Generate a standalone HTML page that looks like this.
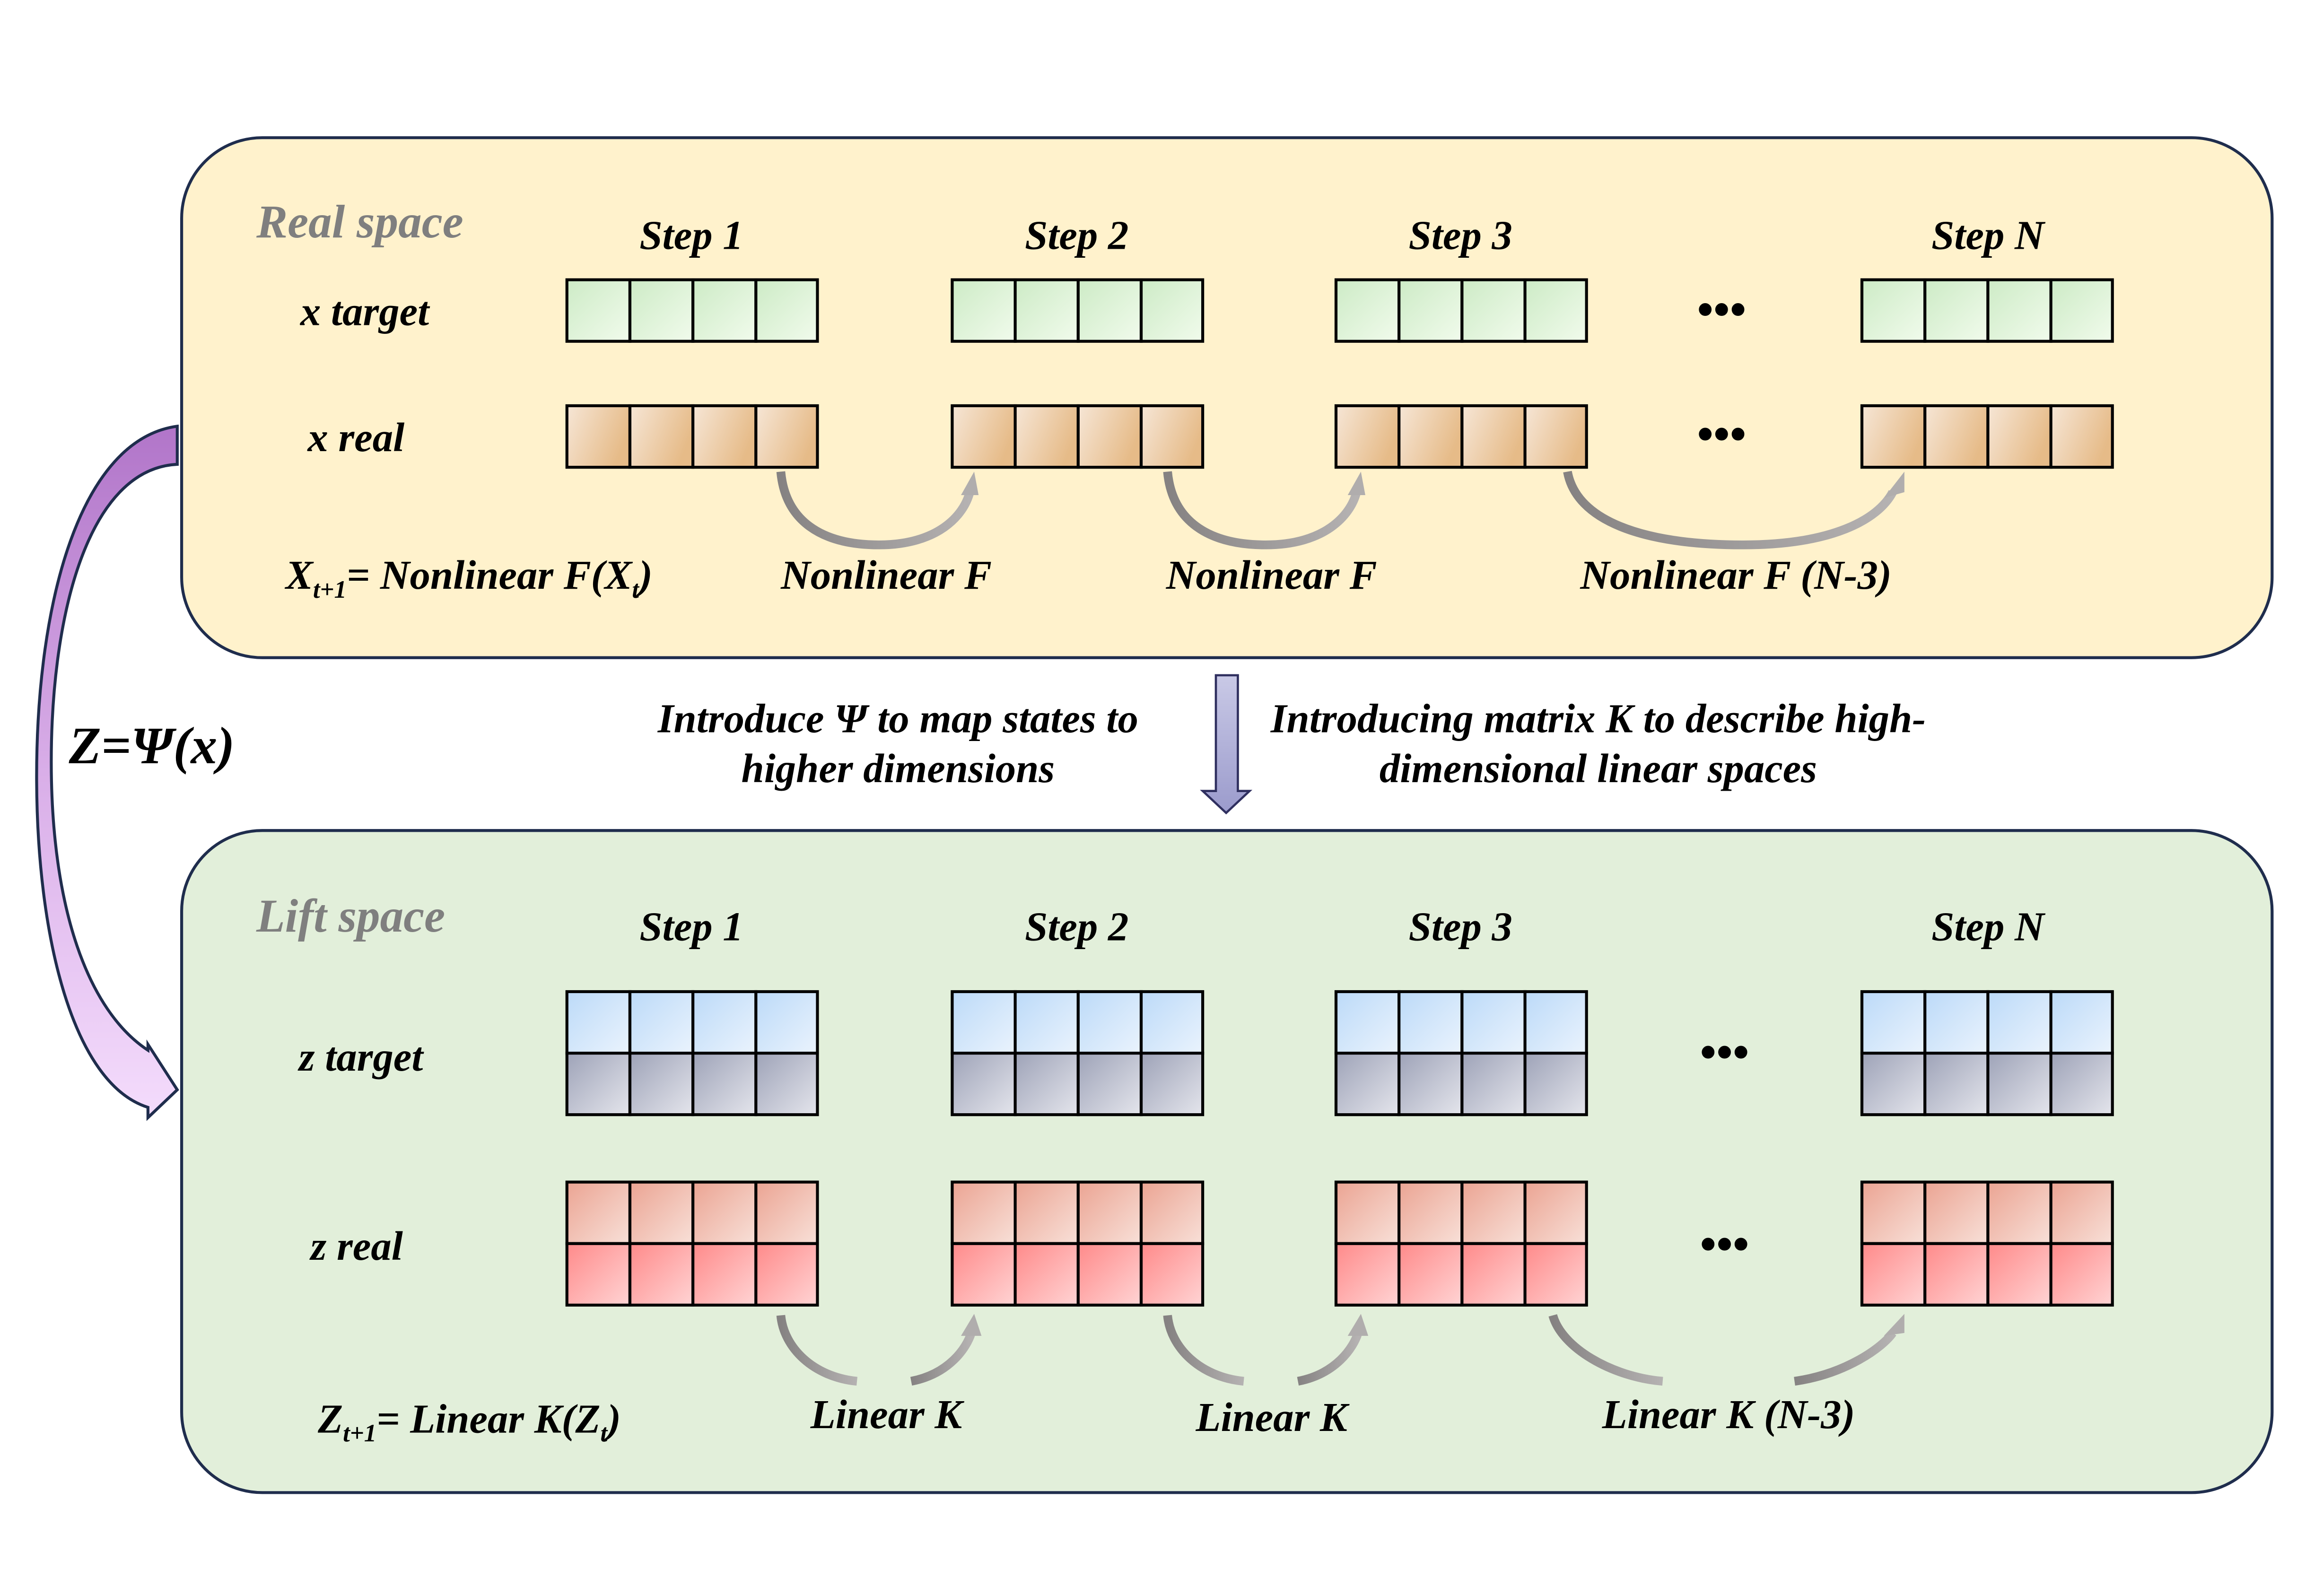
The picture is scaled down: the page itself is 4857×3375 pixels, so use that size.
<!DOCTYPE html>
<html><head><meta charset="utf-8"><style>
html,body{margin:0;padding:0;background:#fff;}
svg{display:block;}
text{font-family:"Liberation Serif",serif;font-weight:bold;font-style:italic;}
</style></head><body>
<svg width="4857" height="3375" viewBox="0 0 1568 1089.6" preserveAspectRatio="none" xmlns="http://www.w3.org/2000/svg">
<defs>
<linearGradient id="gG" x1="0" y1="0" x2="1" y2="1"><stop offset="0" stop-color="#cdebc6"/><stop offset="1" stop-color="#f1fbec"/></linearGradient>
<linearGradient id="gO" x1="0" y1="0" x2="1" y2="0.4"><stop offset="0" stop-color="#f6e6d6"/><stop offset="1" stop-color="#e6bb88"/></linearGradient>
<linearGradient id="gB" x1="0" y1="0" x2="1" y2="1"><stop offset="0" stop-color="#bcdaf8"/><stop offset="1" stop-color="#eaf3fd"/></linearGradient>
<linearGradient id="gY" x1="0" y1="0" x2="1" y2="1"><stop offset="0" stop-color="#9ea3b8"/><stop offset="1" stop-color="#e4e5ec"/></linearGradient>
<linearGradient id="gP" x1="0" y1="0" x2="1" y2="1"><stop offset="0" stop-color="#eba493"/><stop offset="1" stop-color="#f8e0d8"/></linearGradient>
<linearGradient id="gR" x1="0" y1="0" x2="1" y2="1"><stop offset="0" stop-color="#ff8a8a"/><stop offset="1" stop-color="#ffd4d4"/></linearGradient>
<linearGradient id="gPur" x1="0" y1="0" x2="0" y2="1"><stop offset="0" stop-color="#b175c9"/><stop offset="0.5" stop-color="#d9aee8"/><stop offset="1" stop-color="#f4dcfc"/></linearGradient>
<linearGradient id="gDn" x1="0" y1="0" x2="0" y2="1"><stop offset="0" stop-color="#c9c9e6"/><stop offset="1" stop-color="#9b9bcc"/></linearGradient>
<linearGradient id="gArr" x1="0" y1="0" x2="1" y2="0"><stop offset="0" stop-color="#858282"/><stop offset="1" stop-color="#b5b2b2"/></linearGradient>
<g id="rowG" stroke="#000" stroke-width="2"><rect x="0" y="0" width="43" height="42" fill="url(#gG)"/><rect x="43" y="0" width="43" height="42" fill="url(#gG)"/><rect x="86" y="0" width="43" height="42" fill="url(#gG)"/><rect x="129" y="0" width="42" height="42" fill="url(#gG)"/></g>
<g id="rowO" stroke="#000" stroke-width="2"><rect x="0" y="0" width="43" height="42" fill="url(#gO)"/><rect x="43" y="0" width="43" height="42" fill="url(#gO)"/><rect x="86" y="0" width="43" height="42" fill="url(#gO)"/><rect x="129" y="0" width="42" height="42" fill="url(#gO)"/></g>
<g id="rowZT" stroke="#000" stroke-width="2"><rect x="0" y="0" width="43" height="42" fill="url(#gB)"/><rect x="43" y="0" width="43" height="42" fill="url(#gB)"/><rect x="86" y="0" width="43" height="42" fill="url(#gB)"/><rect x="129" y="0" width="42" height="42" fill="url(#gB)"/><rect x="0" y="42" width="43" height="42" fill="url(#gY)"/><rect x="43" y="42" width="43" height="42" fill="url(#gY)"/><rect x="86" y="42" width="43" height="42" fill="url(#gY)"/><rect x="129" y="42" width="42" height="42" fill="url(#gY)"/></g>
<g id="rowZR" stroke="#000" stroke-width="2"><rect x="0" y="0" width="43" height="42" fill="url(#gP)"/><rect x="43" y="0" width="43" height="42" fill="url(#gP)"/><rect x="86" y="0" width="43" height="42" fill="url(#gP)"/><rect x="129" y="0" width="42" height="42" fill="url(#gP)"/><rect x="0" y="42" width="43" height="42" fill="url(#gR)"/><rect x="43" y="42" width="43" height="42" fill="url(#gR)"/><rect x="86" y="42" width="43" height="42" fill="url(#gR)"/><rect x="129" y="42" width="42" height="42" fill="url(#gR)"/></g>
</defs>

<rect x="124" y="94" width="1427" height="355" rx="55" ry="55" fill="#fff2cc" stroke="#1f2d4d" stroke-width="2"/>
<rect x="124" y="567" width="1427" height="452" rx="55" ry="55" fill="#e2efda" stroke="#1f2d4d" stroke-width="2"/>

<text x="175" y="162" font-size="32" fill="#7f7f7f">Real space</text>
<text x="175" y="636" font-size="32" fill="#7f7f7f">Lift space</text>

<g font-size="28" text-anchor="middle">
<text x="472" y="170">Step 1</text><text x="735" y="170">Step 2</text><text x="997" y="170">Step 3</text><text x="1357" y="170">Step N</text>
<text x="472" y="642">Step 1</text><text x="735" y="642">Step 2</text><text x="997" y="642">Step 3</text><text x="1357" y="642">Step N</text>
</g>
<g font-size="28">
<text x="205" y="222">x target</text>
<text x="210" y="308">x real</text>
<text x="204" y="731">z target</text>
<text x="212" y="860">z real</text>
</g>

<use href="#rowG" x="387" y="191"/><use href="#rowG" x="650" y="191"/><use href="#rowG" x="912" y="191"/><use href="#rowG" x="1271" y="191"/>
<use href="#rowO" x="387" y="277"/><use href="#rowO" x="650" y="277"/><use href="#rowO" x="912" y="277"/><use href="#rowO" x="1271" y="277"/>
<use href="#rowZT" x="387" y="677"/><use href="#rowZT" x="650" y="677"/><use href="#rowZT" x="912" y="677"/><use href="#rowZT" x="1271" y="677"/>
<use href="#rowZR" x="387" y="807"/><use href="#rowZR" x="650" y="807"/><use href="#rowZR" x="912" y="807"/><use href="#rowZR" x="1271" y="807"/>

<g font-size="32" text-anchor="middle" font-style="normal">
<text x="1175" y="222">•••</text><text x="1175" y="307">•••</text>
<text x="1177" y="729">•••</text><text x="1177" y="860">•••</text>
</g>

<g fill="none" stroke="url(#gArr)" stroke-width="6">
<path d="M533,322 C536,355 560,372 600,372 C640,372 658,352 662,336"/>
<path d="M797,322 C800,355 824,372 864,372 C904,372 922,352 926,336"/>
<path d="M1070,322 C1076,355 1120,372 1190,372 C1250,372 1282,355 1292,336"/>
<path d="M533,898 C535,920 555,940 585,943"/>
<path d="M622,943 C648,938 660,920 663,910"/>
<path d="M797,898 C799,920 819,940 849,943"/>
<path d="M886,943 C912,938 924,920 927,910"/>
<path d="M1060,898 C1066,920 1100,940 1135,943"/>
<path d="M1225,943 C1260,938 1285,920 1292,910"/>
</g>
<g fill="#b0adad">
<polygon points="656,338 668,338 665,322"/><polygon points="920,338 932,338 929,322"/><polygon points="1286,340 1300,336 1300,322"/>
<polygon points="656,912 670,912 665,897"/><polygon points="920,912 934,912 929,897"/><polygon points="1286,912 1300,910 1300,897"/>
</g>

<g font-size="28">
<text x="195" y="402">X<tspan font-size="17" dy="6">t+1</tspan><tspan dy="-6">= Nonlinear F(X</tspan><tspan font-size="17" dy="6">t</tspan><tspan dy="-6">)</tspan></text>
<text x="217" y="978">Z<tspan font-size="17" dy="6">t+1</tspan><tspan dy="-6">= Linear K(Z</tspan><tspan font-size="17" dy="6">t</tspan><tspan dy="-6">)</tspan></text>
</g>
<g font-size="28" text-anchor="middle">
<text x="605" y="402">Nonlinear F</text><text x="868" y="402">Nonlinear F</text><text x="1185" y="402">Nonlinear F (N-3)</text>
<text x="605" y="975">Linear K</text><text x="868" y="977">Linear K</text><text x="1180" y="975">Linear K (N-3)</text>
<text x="613" y="500">Introduce Ψ to map states to</text>
<text x="613" y="534">higher dimensions</text>
<text x="1091" y="500">Introducing matrix K to describe high-</text>
<text x="1091" y="534">dimensional linear spaces</text>
</g>
<text x="47" y="521" font-size="36">Z=Ψ(x)</text>

<polygon points="830,461 845,461 845,540 853,540 837,555 821,540 830,540" fill="url(#gDn)" stroke="#2f2f5f" stroke-width="1.5"/>

<path d="M121,291 L121,317 C60,320 35,420 35,520 C35,620 60,690 101,717 L101,713 L121,744 L101,763 L101,756 C50,740 25,640 25,530 C25,410 55,300 121,291 Z" fill="url(#gPur)" stroke="#1f2d4d" stroke-width="2"/>
</svg>
</body></html>
